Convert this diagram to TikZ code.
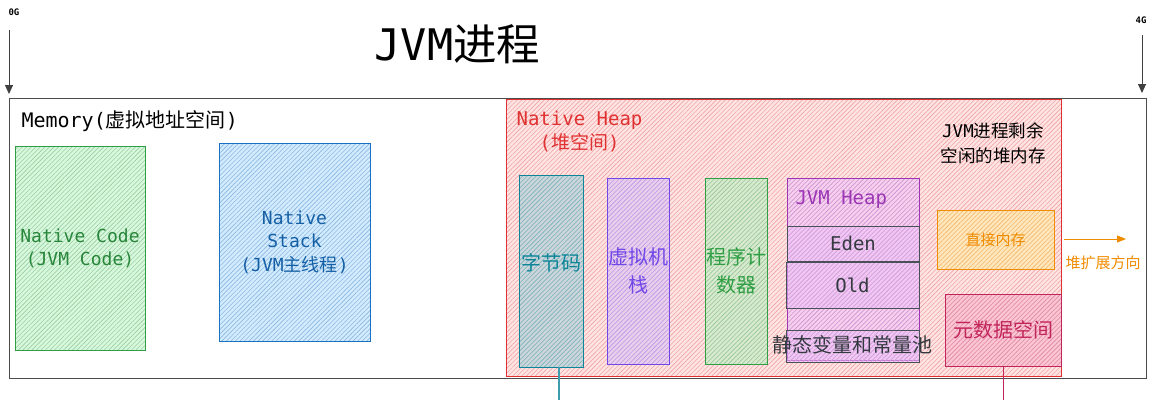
\documentclass[tikz,border=0pt]{standalone}
\usepackage{fontspec}
\setmonofont{DejaVu Sans Mono}
\newfontfamily\cjk{Noto Sans CJK SC}
\usetikzlibrary{patterns.meta,arrows.meta}
\newcommand\zh[1]{{\cjk #1}}
\definecolor{cgreen}{HTML}{2F9E44}
\definecolor{cgreenf}{HTML}{B2F2BB}
\definecolor{cblue}{HTML}{1971C2}
\definecolor{cbluef}{HTML}{A5D8FF}
\definecolor{cred}{HTML}{E03131}
\definecolor{credf}{HTML}{FFC9C9}
\definecolor{cteal}{HTML}{0C8599}
\definecolor{ctealf}{HTML}{99C9D2}
\definecolor{cviol}{HTML}{7048E8}
\definecolor{cviolf}{HTML}{D9B8F5}
\definecolor{cpurp}{HTML}{9C36B5}
\definecolor{cpurpf}{HTML}{EEBEFA}
\definecolor{cgrey}{HTML}{495057}
\definecolor{ctext}{HTML}{343A40}
\definecolor{corange}{HTML}{F08C00}
\definecolor{corangef}{HTML}{FFEC99}
\definecolor{ccrim}{HTML}{C2255C}
\definecolor{ccrimf}{HTML}{F9A8C4}
\tikzset{
  hatchbox/.style n args={3}{draw=#1, line width=0.8pt,
    preaction={fill=#2, fill opacity=0.5},
    pattern={Lines[angle=45,distance=3.2pt,line width=0.6pt]},
    pattern color=#3, inner sep=0pt},
  fs/.style 2 args={font=\ttfamily\fontsize{#1}{#2}\selectfont},
  tip/.style={-{Triangle[length=9pt,width=8pt]}},
}
\begin{document}
\begin{tikzpicture}[x=1pt,y=-1pt]
\useasboundingbox (0,0) rectangle (1153,400);
% top markers
\node[fs={9}{11}, anchor=west] (g0) at (5,12) {\bfseries 0G};
\node[fs={9}{11}] (g4) at (1141,20) {\bfseries 4G};
\coordinate (g0a) at (9,30);
\coordinate (g0b) at (9,94);
\coordinate (g4a) at (1142,35);
\coordinate (g4b) at (1142,93);
\draw[tip, line width=0.9pt, black!75] (g0a) -- (g0b);
\draw[tip, line width=0.9pt, black!75] (g4a) -- (g4b);
% title
\node[font=\ttfamily\fontsize{43.5}{50}\selectfont] (title) at (457.5,44) {JVM\zh{进程}};
% outer memory box
\node[draw=black!70, line width=1pt, minimum width=1137pt, minimum height=280pt, inner sep=0pt] (mem) at (577.5,238) {};
\node[fs={20}{24}, anchor=west] (memlbl) at (18,121) {Memory(\zh{虚拟地址空间})};
% native code
\node[hatchbox={cgreen}{cgreenf}{cgreen!50!white}, minimum width=130pt, minimum height=204pt,
      fs={18}{23}, text=cgreen!85!black, align=center] (ncode) at (80,248) {Native Code\\(JVM Code)};
% native stack
\node[hatchbox={cblue}{cbluef}{cblue!50!white}, minimum width=151pt, minimum height=198pt,
      fs={18}{23.5}, text=cblue!85!black, align=center] (nstack) at (294.5,242) {Native\\Stack\\(JVM\zh{主线程})};
% native heap
\node[hatchbox={cred}{credf}{cred!45!white}, minimum width=555pt, minimum height=277pt] (heap) at (783.5,237.5) {};
\node[fs={19}{24}, text=cred, align=center] (heaplbl) at (579.5,132) {Native Heap\\(\zh{堆空间})};
% bytecode
\node[hatchbox={cteal}{ctealf}{cteal!55!white}, minimum width=64pt, minimum height=192pt,
      label={[font=\cjk\fontsize{20}{24}\selectfont, text=cteal, yshift=8pt]center:字节码}] (bc) at (551,271) {};
% vm stack
\node[hatchbox={cviol}{cviolf}{cviol!50!white}, minimum width=62pt, minimum height=186pt,
      text=cviol, align=center, font=\cjk\fontsize{20}{28}\selectfont] (vms) at (638,271) {虚拟机\\栈};
% program counter
\node[hatchbox={cgreen}{cgreenf}{cgreen!50!white}, minimum width=62pt, minimum height=186pt,
      text=cgreen, align=center, font=\cjk\fontsize{20}{28}\selectfont] (pc) at (736,271) {程序计\\数器};
% JVM heap
\node[hatchbox={cpurp}{cpurpf}{cpurp!50!white}, minimum width=132pt, minimum height=182pt] (jheap) at (853,269) {};
\node[fs={19}{24}, text=cpurp, anchor=west] (jheaplbl) at (792,200) {JVM Heap};
\node[hatchbox={cgrey}{cpurpf}{cpurp!45!white}, minimum width=132pt, minimum height=35pt,
      fs={19}{24}, text=ctext] (eden) at (853,243.5) {Eden};
\node[hatchbox={cgrey}{cpurpf}{cpurp!45!white}, minimum width=133pt, minimum height=46pt,
      fs={19}{24}, text=ctext] (old) at (852.5,285) {Old};
\node[hatchbox={cgrey}{cpurpf}{cpurp!45!white}, minimum width=133pt, minimum height=32pt,
      label={[font=\cjk\fontsize{20}{24}\selectfont, text=ctext, yshift=1pt]center:静态变量和常量池}] (static) at (852.5,346) {};
% free heap text
\node[font=\cjk\fontsize{17.5}{25}\selectfont, align=center] (free) at (993,143.5) {{\ttfamily JVM}进程剩余\\空闲的堆内存};
% direct memory
\node[hatchbox={corange}{corangef}{corange!55!white}, minimum width=117pt, minimum height=59pt,
      font=\cjk\fontsize{15}{18}\selectfont, text=corange] (direct) at (995.5,239.5) {直接内存};
\coordinate (expa) at (1064,239);
\coordinate (expb) at (1126,239);
\draw[-{Triangle[length=9pt,width=7pt]}, corange, line width=1pt] (expa) -- (expb);
\node[font=\cjk\fontsize{15}{18}\selectfont, text=corange] (expl) at (1103,263) {堆扩展方向};
% metaspace
\node[hatchbox={ccrim}{ccrimf}{ccrim!50!white}, minimum width=116pt, minimum height=72pt,
      font=\cjk\fontsize{20}{24}\selectfont, text=ccrim] (meta) at (1003,330) {元数据空间};
% lines going down
\coordinate (bcdown) at (559,400);
\coordinate (metadown) at (1003,400);
\draw[cteal!80!white, line width=1.2pt] (bc.south -| bcdown) -- (bcdown);
\draw[ccrim, line width=1pt] (meta.south) -- (metadown);
\end{tikzpicture}
\end{document}
